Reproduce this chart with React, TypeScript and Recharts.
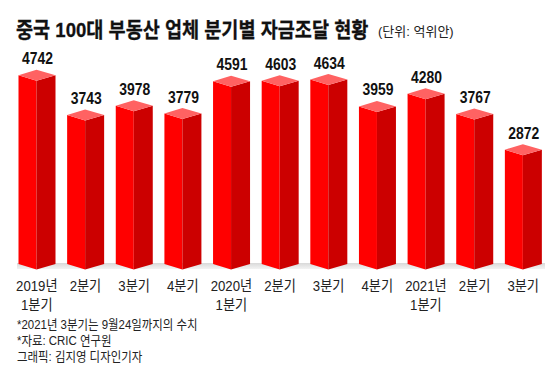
import { BarChart, Bar, XAxis, YAxis, LabelList } from "recharts";

// 분기별 자금조달 (단위: 억위안)
const years = ["2019년", "", "", "", "2020년", "", "", "", "2021년", "", ""];
const quarters = ["1분기", "2분기", "3분기", "4분기", "1분기", "2분기", "3분기", "4분기", "1분기", "2분기", "3분기"];
const values = [4742, 3743, 3978, 3779, 4591, 4603, 4634, 3959, 4280, 3767, 2872];

const title = "중국 100대 부동산 업체 분기별 자금조달 현황";
const unit = "(단위: 억위안)";
const notes = ["*2021년 3분기는 9월24일까지의 수치", "*자료: CRIC 연구원", "그래픽: 김지영 디자인기자"];

const data = values.map((v, i) => ({ key: String(i), year: years[i], quarter: quarters[i], value: v }));

const FONT = "'Liberation Sans', 'Noto Sans CJK KR', sans-serif";

// 입체 막대: 앞면 + 옆면 + 윗면
function Bar3D(props: any) {
  const { x, y, width, height } = props;
  const cx = x + width / 2;
  const fl = cx - 18;
  const sr = cx + 19;
  const d = 5.5;
  const b = y + height;
  return (
    <g>
      <polygon points={`${fl},${y} ${cx},${y + d} ${cx},${b + d} ${fl},${b}`} fill="#ff0000" />
      <polygon points={`${cx},${y + d} ${sr},${y} ${sr},${b} ${cx},${b + d}`} fill="#cc0000" />
      <polygon points={`${fl},${y} ${cx},${y - d} ${sr},${y} ${cx},${y + d}`} fill="#ff6262" />
    </g>
  );
}

function ValueLabel(props: any) {
  const { x, y, width, value } = props;
  const cx = x + width / 2 + 1;
  return (
    <g transform={`translate(${cx},${y - 11}) scale(0.82,1)`}>
      <text textAnchor="middle" fontFamily={FONT} fontWeight="bold" fontSize={17} fill="#111">
        {value}
      </text>
    </g>
  );
}

function QuarterTick(props: any) {
  const { x, y, payload } = props;
  const row = data[Number(payload.value)];
  const lines = row.year ? [row.year, row.quarter] : [row.quarter];
  return (
    <g transform={`translate(${x + 0.5},${y}) scale(0.88,1)`}>
      {lines.map((t, i) => (
        <text key={i} y={19 + i * 19} textAnchor="middle" fontFamily={FONT} fontSize={15} fill="#222">
          {t}
        </text>
      ))}
    </g>
  );
}

export default function App() {
  return (
    <div style={{ position: "absolute", left: 0, top: 0, width: 560, height: 375, background: "#fff" }}>
      {/* 바닥 그림자 */}
      <div
        style={{
          position: "absolute",
          left: 17,
          top: 263,
          width: 528,
          height: 6,
          background: "linear-gradient(#d9d9d9, #f3f3f3)",
        }}
      />
      <div style={{ position: "absolute", left: 0, top: 0 }}>
        <BarChart width={560} height={375} data={data} margin={{ top: 65, right: 13, bottom: 0, left: 12 }} barCategoryGap={0}>
          <XAxis dataKey="key" axisLine={false} tickLine={false} interval={0} height={111} tick={<QuarterTick />} />
          <YAxis hide domain={[0, 5000]} />
          <Bar dataKey="value" barSize={37} shape={<Bar3D />} isAnimationActive={false}>
            <LabelList dataKey="value" content={<ValueLabel />} />
          </Bar>
        </BarChart>
      </div>
      <svg width={560} height={375} style={{ position: "absolute", left: 0, top: 0, pointerEvents: "none" }}>
        <g transform="translate(16,37) scale(0.885,1)">
          <text fontFamily={FONT} fontWeight="bold" fontSize={21} fill="#111" stroke="#111" strokeWidth={0.3}>
            {title}
          </text>
        </g>
        <text x={378} y={36} fontFamily={FONT} fontSize={13} fill="#222">
          {unit}
        </text>
        {notes.map((n, i) => (
          <g key={i} transform={`translate(17,${329 + i * 16}) scale(0.88,1)`}>
            <text fontFamily={FONT} fontSize={13} fill="#222">
              {n}
            </text>
          </g>
        ))}
      </svg>
    </div>
  );
}
